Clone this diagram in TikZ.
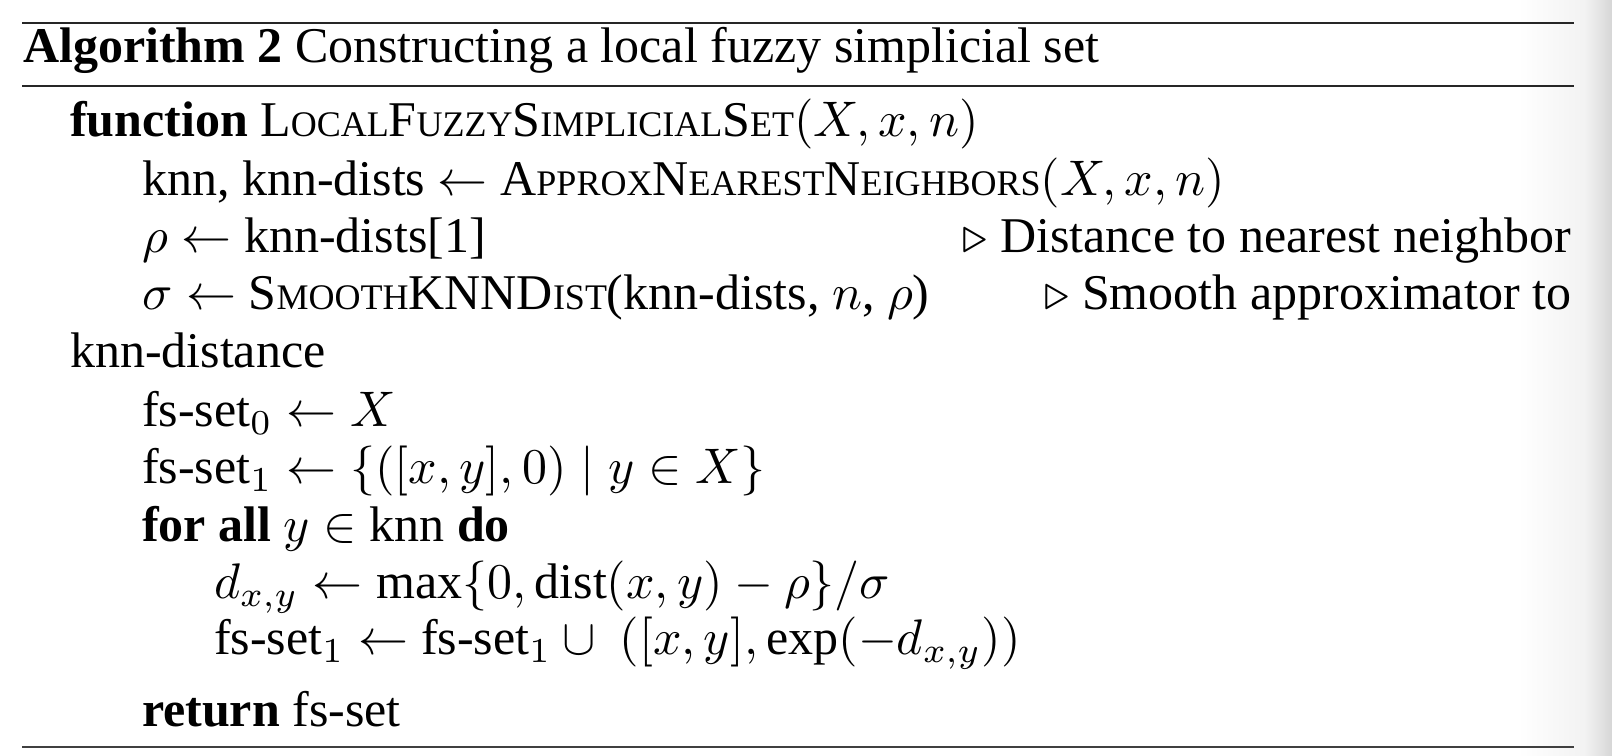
\documentclass[tikz,border=0pt]{standalone}
\usepackage{fontspec}
\setmainfont{Liberation Serif}
\newcommand\fsc[1]{{\fontsize{7.2}{9}\selectfont #1}}
\tikzset{
  line/.style={inner sep=0pt, anchor=base west, font=\fontsize{10}{12}\selectfont},
  cmt/.style={inner sep=0pt, anchor=base east, font=\fontsize{10}{12}\selectfont},
  toprule/.style={draw=black!85, line width=0.55pt},
  midrule/.style={draw=black!85, line width=0.3pt},
  botrule/.style={draw=black!75, line width=0.45pt}
}
\begin{document}
\begin{tikzpicture}[x=0.2pt,y=-0.2pt]
\useasboundingbox (0,0) rectangle (1612,756);
\fill[white] (0,0) rectangle (1612,756);
\shade[left color=white, right color=black!5] (1518,0) rectangle (1586,756);
\shade[left color=black!5, right color=black!16] (1585,0) rectangle (1612,756);
% rules
\coordinate (r1a) at (22,23); \coordinate (r1b) at (1574,23);
\coordinate (r2a) at (22,86); \coordinate (r2b) at (1574,86);
\coordinate (r3a) at (22,747); \coordinate (r3b) at (1574,747);
\draw[toprule] (r1a) -- (r1b);
\draw[midrule] (r2a) -- (r2b);
\draw[botrule] (r3a) -- (r3b);
% title
\node[line] (title) at (22,63) {\textbf{Algorithm 2} Constructing a local fuzzy simplicial set};
% body
\node[line] (l1) at (69,137) {\textbf{function} L\fsc{OCAL}F\fsc{UZZY}S\fsc{IMPLICIAL}S\fsc{ET}$(X, x, n)$};
\node[line] (l2) at (141,196) {knn, knn-dists $\leftarrow$ A\fsc{PPROX}N\fsc{EAREST}N\fsc{EIGHBORS}$(X, x, n)$};
\node[line] (l3) at (141,253) {$\rho \leftarrow$ knn-dists[1]};
\node[cmt] (c3) at (1572,253) {$\triangleright$ Distance to nearest neighbor};
\node[line] (l4) at (141,310) {$\sigma \leftarrow$ S\fsc{MOOTH}KNND\fsc{IST}(knn-dists, $n$, $\rho$)};
\node[cmt] (c4) at (1572,310) {$\triangleright$ Smooth approximator to};
\node[line] (l5) at (69,368) {knn-distance};
\node[line] (l6) at (141,427) {fs-set$_0 \leftarrow X$};
\node[line] (l7) at (141,484) {fs-set$_1 \leftarrow \{([x, y], 0) \mid y \in X\}$};
\node[line] (l8) at (141,542) {\textbf{for all} $y \in$ knn \textbf{do}};
\node[line] (l9) at (213,599) {$d_{x,y} \leftarrow \max\{0, \mathrm{dist}(x, y) - \rho\}/\sigma$};
\node[line] (l10) at (213,655) {fs-set$_1 \leftarrow$ fs-set$_1 \cup\ ([x, y], \exp(-d_{x,y}))$};
\node[line] (l11) at (141,727) {\textbf{return} fs-set};
\end{tikzpicture}
\end{document}
